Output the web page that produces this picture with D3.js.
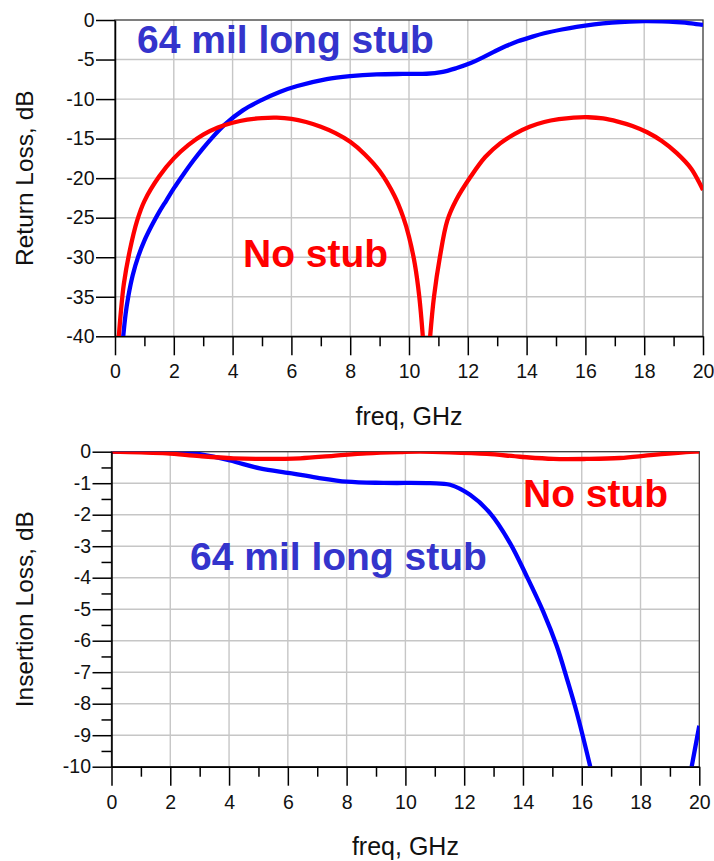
<!DOCTYPE html>
<html>
<head>
<meta charset="utf-8">
<script src="https://cdn.jsdelivr.net/npm/d3@7"></script>
<style>
	body { margin: 0; background: #fff; }
	svg { display: block; }
</style>
</head>
<body>
<svg id="chart" width="714" height="861"></svg>
<script>
// ---- Data ----
var freqTicks = [0, 2, 4, 6, 8, 10, 12, 14, 16, 18, 20];
var freqMinorTicks = [1, 3, 5, 7, 9, 11, 13, 15, 17, 19];

// Return loss panel
var rlTicks = [0, -5, -10, -15, -20, -25, -30, -35, -40];
var rlNoStubFreq = [0.13, 0.2, 0.3, 0.5, 0.75, 1.0, 1.5, 2.0, 2.5, 3.0, 3.5, 4.0, 4.5, 5.0, 5.5, 6.0, 6.5, 7.0, 7.5, 8.0, 8.5, 9.0, 9.5, 9.8, 10.0, 10.2, 10.35, 10.47,
	10.6,
	10.72, 10.85, 11.05, 11.3, 11.6, 12.1, 12.6, 13.1, 13.6, 14.1, 14.6, 15.1, 15.6, 16.1, 16.6, 17.1, 17.6, 18.1, 18.6, 19.1, 19.6, 20];
var rlNoStub = [-40, -36.9, -33.4, -29.2, -25.4, -22.9, -19.8, -17.5, -15.8, -14.5, -13.6, -13.0, -12.6, -12.4, -12.35, -12.5, -12.9, -13.5, -14.3, -15.4, -17.0, -19.1, -22.2, -24.9, -27.4, -30.9, -35, -40,
	null,
	-40, -35, -30, -25.4, -22.8, -19.8, -17.3, -15.6, -14.4, -13.5, -12.9, -12.55, -12.35, -12.3, -12.45, -12.85, -13.4, -14.2, -15.3, -16.8, -18.8, -21.5];
var rlStubFreq = [0.28, 0.36, 0.45, 0.6, 0.8, 1.0, 1.25, 1.5, 1.75, 2.0, 2.33, 2.66, 3.0, 3.3, 3.74, 4.36, 5.0, 5.6, 6.2, 7.2, 8.0, 8.9, 9.8, 10.6, 11.1, 11.6,
	12.1, 12.5, 12.9, 13.3, 13.7, 14.2, 14.6, 15.2, 15.7, 16.3, 16.9, 17.5, 18.0, 18.6, 19.1, 19.6, 20];
var rlStub = [-40, -37.2, -35, -32.3, -29.8, -27.9, -26.0, -24.3, -22.8, -21.3, -19.5, -17.8, -16.2, -14.9, -13.2, -11.4, -10.1, -9.1, -8.35, -7.47, -7.1, -6.88, -6.82, -6.8, -6.6, -6.1,
	-5.45, -4.75, -4.0, -3.3, -2.7, -2.1, -1.68, -1.2, -0.86, -0.55, -0.33, -0.2, -0.15, -0.18, -0.27, -0.42, -0.63];

// Insertion loss panel
var ilTicks = [0, -1, -2, -3, -4, -5, -6, -7, -8, -9, -10];
var ilMinorTicks = [-0.5, -1.5, -2.5, -3.5, -4.5, -5.5, -6.5, -7.5, -8.5, -9.5];
var ilNoStubFreq = [0, 1, 1.88, 3.0, 4.15, 5.28, 6.42, 7.55, 8.68, 9.9, 10.5, 11.5, 12.77, 13.9, 15.03, 16.17, 17.3, 18.44, 19.9, 20];
var ilNoStub = [0, -0.02, -0.05, -0.14, -0.21, -0.23, -0.21, -0.13, -0.05, -0.01, 0, -0.02, -0.07, -0.16, -0.23, -0.23, -0.2, -0.1, 0, 0];
var ilStubFreq = [0, 1.9, 2.5, 3.0, 4.03, 5.05, 6.07, 6.98, 8.0, 9.25, 10.84, 11.52, 12.2, 12.88, 13.56, 14.13, 14.7, 15.15, 15.5, 15.83, 16.29, 18, 19.74, 20];
var ilStub = [0, 0, -0.02, -0.08, -0.28, -0.53, -0.68, -0.82, -0.95, -0.99, -1.0, -1.05, -1.37, -1.95, -2.9, -3.96, -5.1, -6.17, -7.22, -8.28, -10, null, -10, -8.7];

var FONT = "'Liberation Sans', Arial, Helvetica, sans-serif";
var RED = "#ff0000", BLUE = "#0000ff", BLUE_TEXT = "#3434cc";

var svg = d3.select("#chart");

function zip(xs, ys) {
	return xs.map(function(x, i) { return {x: x, y: ys[i]}; });
}

function drawPanel(p) {
	var x = d3.scaleLinear().domain([0, 20]).range([p.left, p.right]);
	var y = d3.scaleLinear().domain([p.ymin, 0]).range([p.bottom, p.top]);
	var g = svg.append("g");

	// grid
	g.append("g").selectAll("line").data(freqTicks.slice(1, -1)).join("line")
		.attr("x1", x).attr("x2", x).attr("y1", p.top).attr("y2", p.bottom)
		.attr("stroke", "#c6c6c6").attr("stroke-width", 1.4);
	g.append("g").selectAll("line").data(p.yticks.slice(1, -1)).join("line")
		.attr("y1", y).attr("y2", y).attr("x1", p.left).attr("x2", p.right)
		.attr("stroke", "#c6c6c6").attr("stroke-width", 1.4);

	// frame
	g.append("rect").attr("x", p.left).attr("y", p.top)
		.attr("width", p.right - p.left).attr("height", p.bottom - p.top)
		.attr("fill", "none").attr("stroke", "#3a3a3a").attr("stroke-width", 1.3);

	// curves
	var clipId = p.id + "-clip";
	svg.append("defs").append("clipPath").attr("id", clipId)
		.append("rect").attr("x", p.left).attr("y", p.top)
		.attr("width", p.right - p.left).attr("height", p.bottom - p.top);
	var line = d3.line()
		.defined(function(d) { return d.y !== null; })
		.x(function(d) { return x(d.x); })
		.y(function(d) { return y(d.y); })
		.curve(d3.curveCatmullRom.alpha(0.5));
	var curves = g.append("g").attr("clip-path", "url(#" + clipId + ")");
	p.series.forEach(function(s) {
		curves.append("path").datum(s.data)
			.attr("d", line).attr("fill", "none")
			.attr("stroke", s.color).attr("stroke-width", 4.3)
			.attr("stroke-linejoin", "round");
	});

	// axes
	var fmt = function(d) { return String(d); };
	g.append("g").attr("transform", "translate(0," + p.bottom + ")")
		.call(d3.axisBottom(x).tickValues(freqTicks).tickFormat(fmt).tickSize(19).tickSizeOuter(0).tickPadding(p.xpad));
	g.append("g").attr("transform", "translate(0," + p.bottom + ")")
		.call(d3.axisBottom(x).tickValues(freqMinorTicks).tickFormat("").tickSize(10).tickSizeOuter(0))
		.select(".domain").remove();
	g.append("g").attr("transform", "translate(" + p.left + ",0)")
		.call(d3.axisLeft(y).tickValues(p.yticks).tickFormat(fmt).tickSize(19).tickSizeOuter(0).tickPadding(1.5));
	if (p.yminor) {
		g.append("g").attr("transform", "translate(" + p.left + ",0)")
			.call(d3.axisLeft(y).tickValues(p.yminor).tickFormat("").tickSize(10).tickSizeOuter(0))
			.select(".domain").remove();
	}
	g.selectAll(".domain, .tick line").attr("stroke", "#000").attr("stroke-width", 1.5);
	g.selectAll(".tick text").attr("font-family", FONT).attr("font-size", 19.5).attr("fill", "#111");

	// titles
	g.append("text").attr("x", (p.left + p.right) / 2).attr("y", p.xtitleY)
		.attr("text-anchor", "middle").attr("font-family", FONT).attr("font-size", 25)
		.attr("fill", "#111").text("freq, GHz");
	g.append("text")
		.attr("transform", "translate(33," + ((p.top + p.bottom) / 2) + ") rotate(-90)")
		.attr("text-anchor", "middle").attr("font-family", FONT).attr("font-size", 24.5)
		.attr("fill", "#111").text(p.ytitle);

	// annotations
	p.labels.forEach(function(l) {
		g.append("text").attr("x", l.x).attr("y", l.y)
			.attr("font-family", FONT).attr("font-size", 39).attr("font-weight", "bold")
			.attr("fill", l.color).text(l.text);
	});
}

drawPanel({
	id: "rl", left: 115, right: 703, top: 20, bottom: 336.3, ymin: -40,
	yticks: rlTicks, yminor: null, xpad: 8.5, xtitleY: 425,
	ytitle: "Return Loss, dB",
	series: [
		{data: zip(rlStubFreq, rlStub), color: BLUE},
		{data: zip(rlNoStubFreq, rlNoStub), color: RED}
	],
	labels: [
		{text: "64 mil long stub", x: 137, y: 53, color: BLUE_TEXT},
		{text: "No stub", x: 243, y: 267, color: RED}
	]
});

drawPanel({
	id: "il", left: 111.5, right: 699.3, top: 451.7, bottom: 766.7, ymin: -10,
	yticks: ilTicks, yminor: ilMinorTicks, xpad: 9, xtitleY: 855,
	ytitle: "Insertion Loss, dB",
	series: [
		{data: zip(ilStubFreq, ilStub), color: BLUE},
		{data: zip(ilNoStubFreq, ilNoStub), color: RED}
	],
	labels: [
		{text: "64 mil long stub", x: 190, y: 570, color: BLUE_TEXT},
		{text: "No stub", x: 523, y: 507, color: RED}
	]
});
</script>
</body>
</html>
